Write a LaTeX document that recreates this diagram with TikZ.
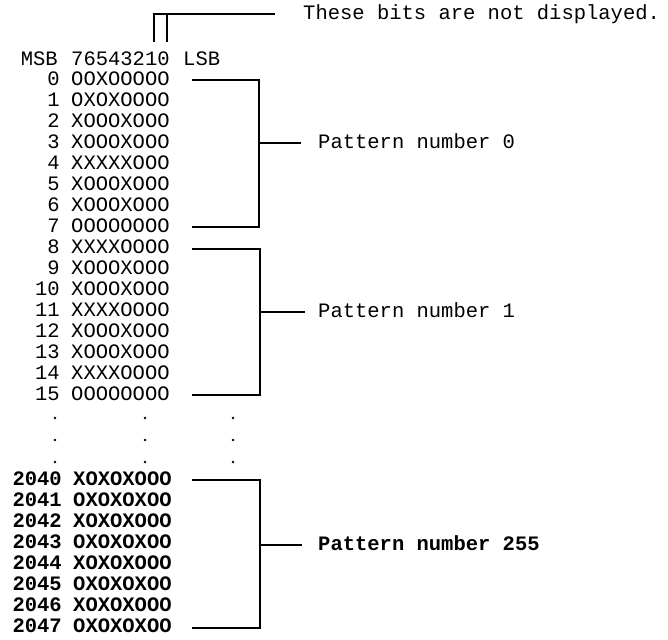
\documentclass[tikz,border=0pt]{standalone}
\usepackage{fontspec}
\setmonofont{Liberation Mono}
\begin{document}
\begin{tikzpicture}[x=1pt,y=-1pt,
  txt/.style={font=\ttfamily\fontsize{20.5}{24}\selectfont, inner sep=0pt},
  num/.style={txt,anchor=base east},
  bits/.style={txt,anchor=base west},
  lbl/.style={txt,anchor=base west},
  heavy/.style={font=\ttfamily\bfseries\fontsize{20.5}{24}\selectfont},
  brk/.style={line width=1.7pt},
  tick/.style={line width=1.3pt},
  dotmark/.style={circle,fill,inner sep=0pt,minimum size=2.8pt}]
\useasboundingbox (0,0) rectangle (668,639);

% header and note
\node[num] (msb) at (58,66) {MSB};
\node[bits] (hdr) at (71,66) {76543210};
\node[bits] (lsb) at (183,66) {LSB};
\node[lbl] (note) at (303,19.5) {These bits are not displayed.};
\coordinate (bit1) at (154,42);
\coordinate (bit0) at (167,42);
\coordinate (nc) at (154,14);
\coordinate (ne) at (275,14);
\draw[tick] (bit1) -- (nc) -- (ne);
\draw[tick] (bit0) -- (167,14);

% rows 0..15
\foreach \n/\b [count=\i from 0] in {0/OOXOOOOO,1/OXOXOOOO,2/XOOOXOOO,3/XOOOXOOO,
  4/XXXXXOOO,5/XOOOXOOO,6/XOOOXOOO,7/OOOOOOOO,8/XXXXOOOO,9/XOOOXOOO,
  10/XOOOXOOO,11/XXXXOOOO,12/XOOOXOOO,13/XOOOXOOO,14/XXXXOOOO,15/OOOOOOOO}{
  \node[num] (n\i) at (60,{80+21*\i+5.5}) {\n};
  \node[bits] (b\i) at (71,{80+21*\i+5.5}) {\b};
}

% rows 2040..2047
\foreach \n/\b [count=\i from 0] in {2040/XOXOXOOO,2041/OXOXOXOO,2042/XOXOXOOO,
  2043/OXOXOXOO,2044/XOXOXOOO,2045/OXOXOXOO,2046/XOXOXOOO,2047/OXOXOXOO}{
  \node[num,heavy] (m\i) at (62,{480+21*\i+5.5}) {\n};
  \node[bits,heavy] (c\i) at (73,{480+21*\i+5.5}) {\b};
}

% vertical ellipsis dots
\foreach \y [count=\k] in {418,440,462}{
  \node[dotmark] (da\k) at (55,\y) {};
  \node[dotmark] (db\k) at (145,\y) {};
  \node[dotmark] (dc\k) at (233,\y) {};
}

% bracket: pattern 0
\coordinate (p0a) at (192,80);
\coordinate (p0b) at (192,227);
\coordinate (p0m) at (259,143);
\node[lbl] (lab0) at (318,148.5) {Pattern number 0};
\draw[brk] (p0a) -| (p0m) |- (p0b);
\draw[tick] (p0m) -- ([xshift=-17pt]lab0.west |- p0m);

% bracket: pattern 1
\coordinate (p1a) at (192,249);
\coordinate (p1b) at (192,395);
\coordinate (p1m) at (260,312);
\node[lbl] (lab1) at (318,317.5) {Pattern number 1};
\draw[brk] (p1a) -| (p1m) |- (p1b);
\draw[tick] (p1m) -- ([xshift=-13pt]lab1.west |- p1m);

% bracket: pattern 255
\coordinate (p2a) at (192,480);
\coordinate (p2b) at (192,628);
\coordinate (p2m) at (260,545);
\node[lbl,heavy] (lab2) at (318,550.5) {Pattern number 255};
\draw[brk] (p2a) -| (p2m) |- (p2b);
\draw[brk] (p2m) -- ([xshift=-16pt]lab2.west |- p2m);
\end{tikzpicture}
\end{document}
